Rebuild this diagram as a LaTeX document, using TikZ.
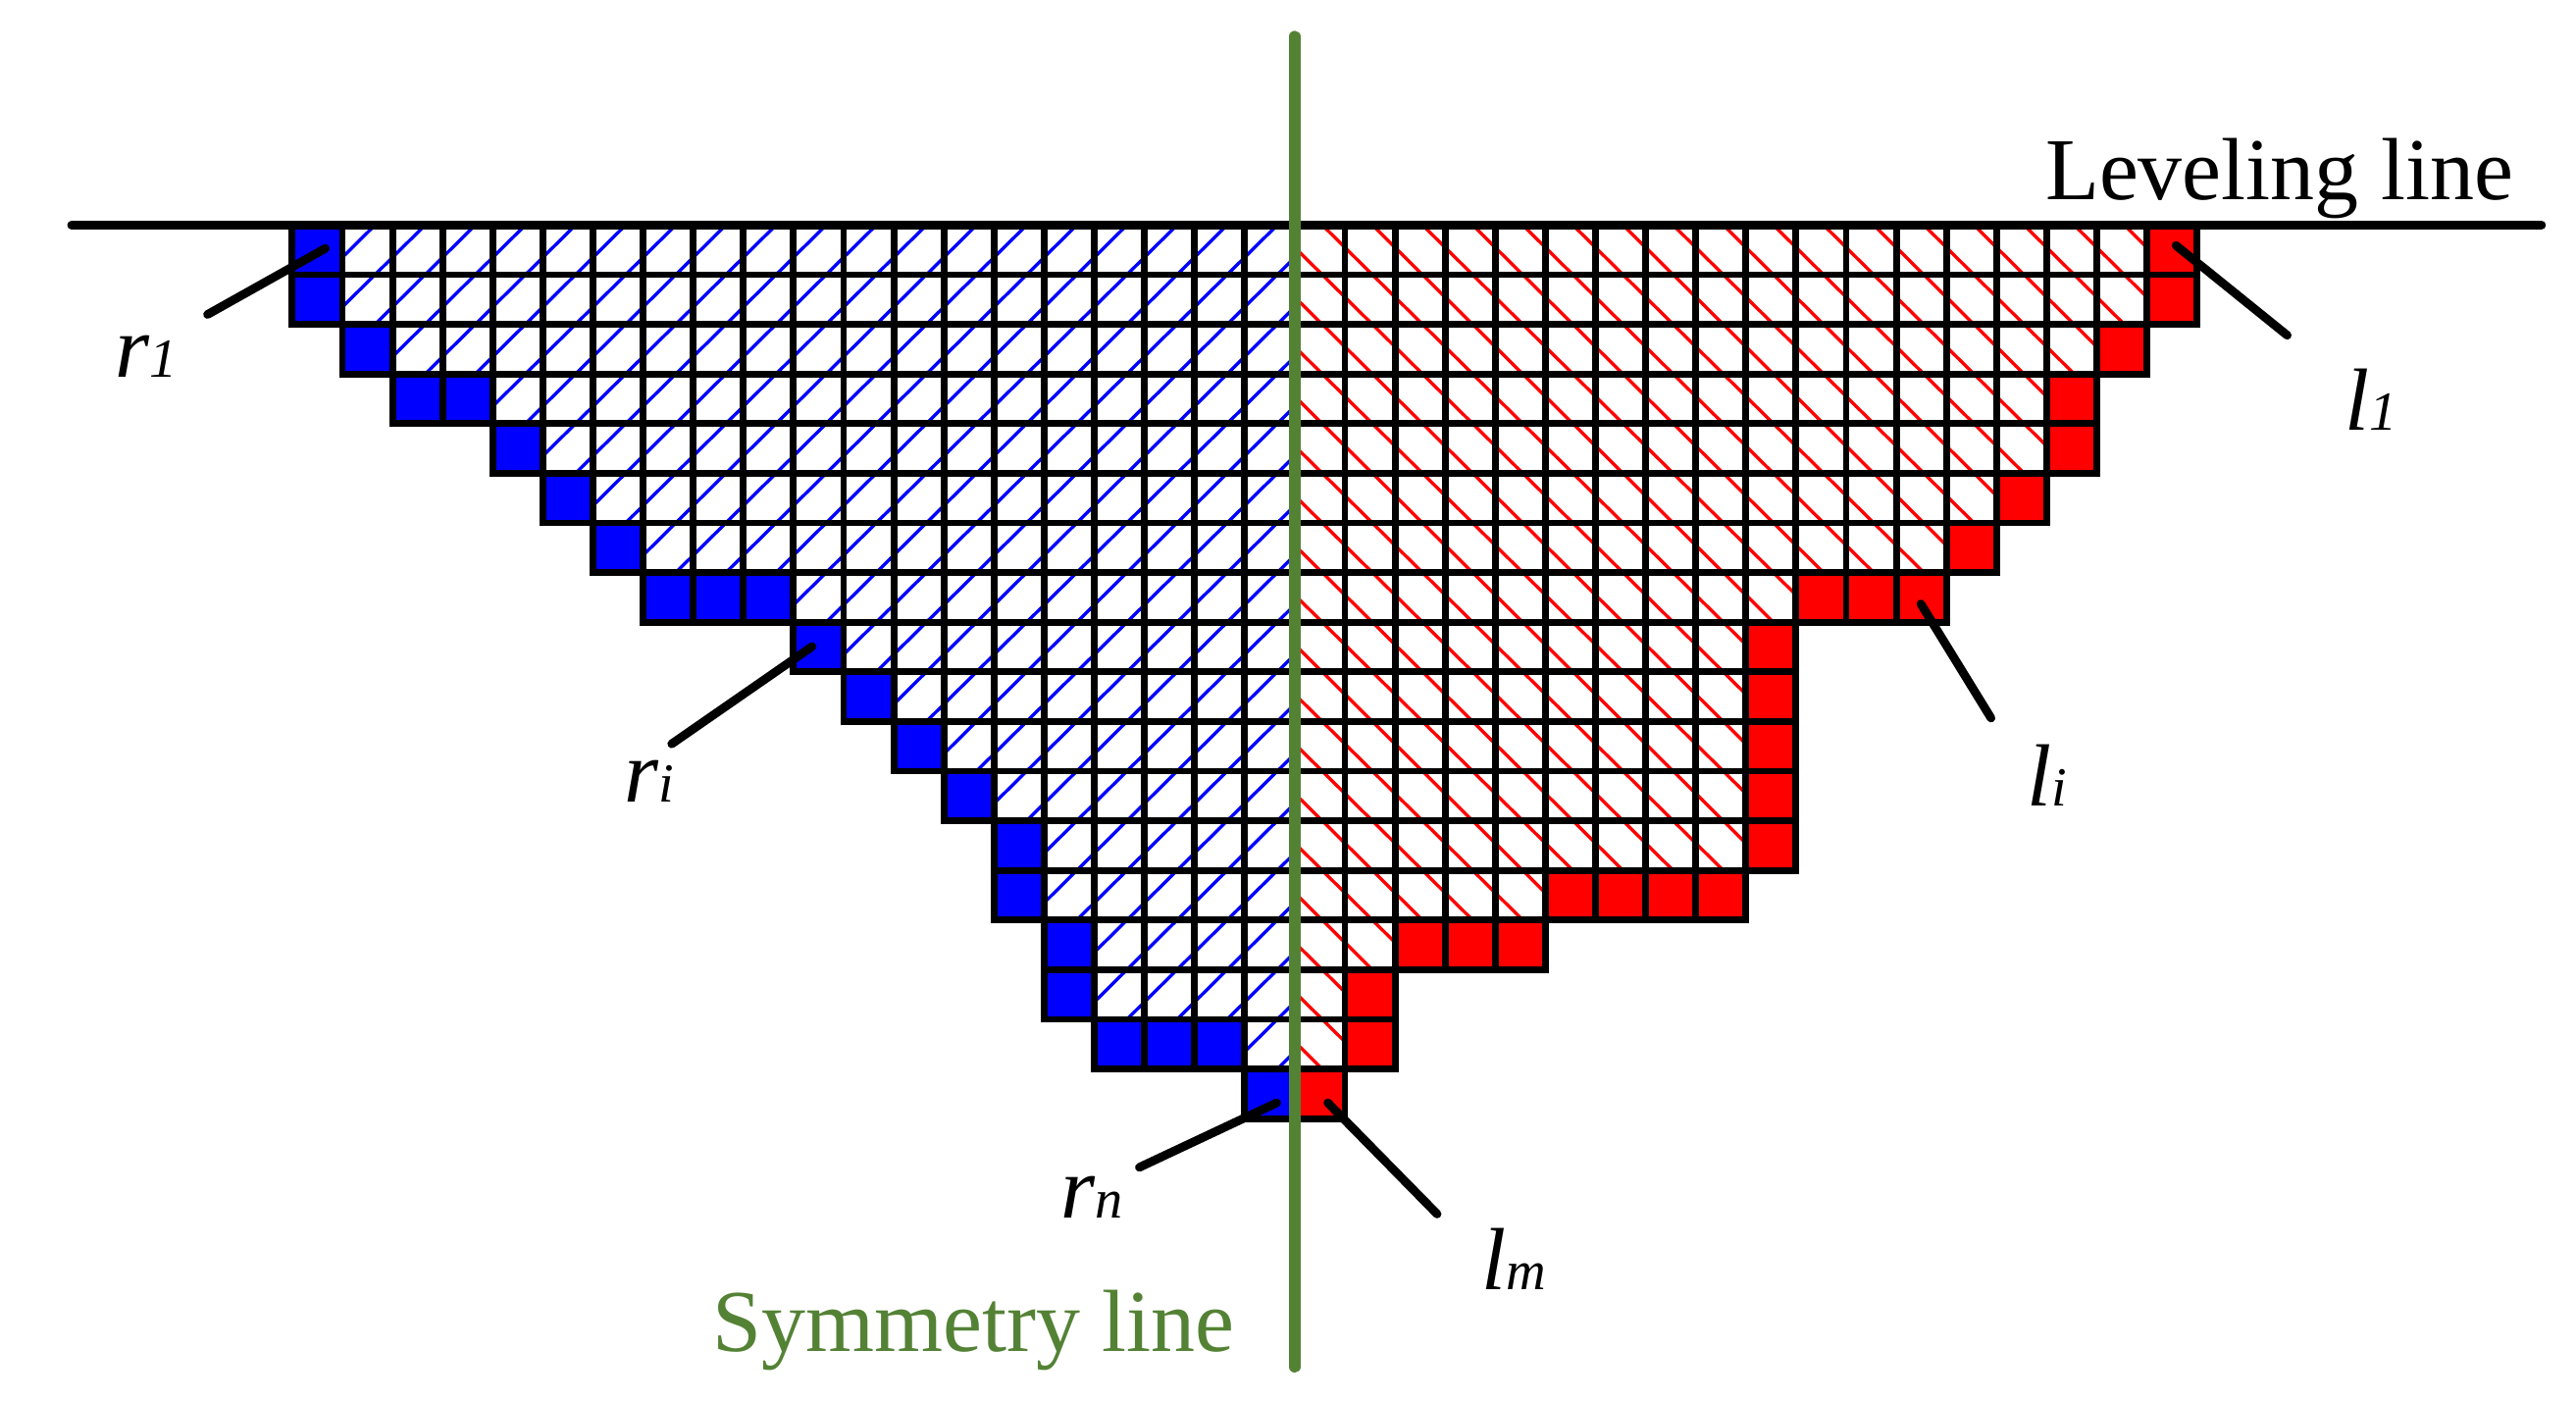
\documentclass[tikz,border=0pt]{standalone}
\usepackage{fontspec}
\setmainfont{Liberation Serif}
\definecolor{symgreen}{RGB}{84,130,53}
\newcommand\lsub[1]{{\fontsize{16}{19}\selectfont\textit{#1}}}
\tikzset{
  cellborder/.style={draw=black,line width=1.95pt},
  hatchline/.style={line width=0.95pt,line cap=butt},
  leader/.style={draw=black,line width=2.5pt,line cap=round},
  levline/.style={draw=black,line width=2.6pt,line cap=round},
  symline/.style={draw=symgreen,line width=3.3pt,line cap=round},
  lab/.style={anchor=base west,inner sep=0pt,font=\fontsize{25.6}{30}\selectfont},
}
\begin{document}
\begin{tikzpicture}[x=0.511cm,y=-0.506cm]
\useasboundingbox (-5.83,-4.535) rectangle (45.56,23.67);
% ---------- left (blue) cells: row / extent / extent of next row
\foreach \r/\L/\N in {1/20/20,2/20/19,3/19/18,4/18/16,5/16/15,6/15/14,7/14/13,8/13/10,9/10/9,10/9/8,11/8/7,12/7/6,13/6/6,14/6/5,15/5/5,16/5/4,17/4/1,18/1/0}{
  \foreach \k in {1,...,\L}{
    \pgfmathsetmacro\xo{20-\k}
    \pgfmathtruncatemacro\solid{or(\k>\N,\k==\L)}
    \ifnum\solid=1
      \fill[blue] (\xo,\r-1) rectangle (\xo+1,\r);
    \else
      \draw[hatchline,blue] (\xo+0.65,\r-1) -- (\xo,\r-0.35);
      \draw[hatchline,blue] (\xo+1,\r-0.35) -- (\xo+0.65,\r);
    \fi
  }
}
% ---------- right (red) cells
\foreach \r/\L/\N in {1/18/18,2/18/17,3/17/16,4/16/16,5/16/15,6/15/14,7/14/13,8/13/10,9/10/10,10/10/10,11/10/10,12/10/10,13/10/9,14/9/5,15/5/2,16/2/2,17/2/1,18/1/0}{
  \foreach \k in {1,...,\L}{
    \pgfmathsetmacro\xo{19+\k}
    \pgfmathtruncatemacro\solid{or(\k>\N,\k==\L)}
    \ifnum\solid=1
      \fill[red] (\xo,\r-1) rectangle (\xo+1,\r);
    \else
      \draw[hatchline,red] (\xo,\r-0.55) -- (\xo+0.55,\r);
      \draw[hatchline,red] (\xo+0.55,\r-1) -- (\xo+1,\r-0.55);
    \fi
  }
}
% ---------- borders
\foreach \r/\L in {1/20,2/20,3/19,4/18,5/16,6/15,7/14,8/13,9/10,10/9,11/8,12/7,13/6,14/6,15/5,16/5,17/4,18/1}{
  \foreach \k in {1,...,\L}{
    \pgfmathsetmacro\xo{20-\k}
    \draw[cellborder] (\xo,\r-1) rectangle (\xo+1,\r);
  }
}
\foreach \r/\L in {1/18,2/18,3/17,4/16,5/16,6/15,7/14,8/13,9/10,10/10,11/10,12/10,13/10,14/9,15/5,16/2,17/2,18/1}{
  \foreach \k in {1,...,\L}{
    \pgfmathsetmacro\xo{19+\k}
    \draw[cellborder] (\xo,\r-1) rectangle (\xo+1,\r);
  }
}
% ---------- leveling line
\coordinate (levL) at (-4.4,0);
\coordinate (levR) at (44.87,0);
\draw[levline] (levL) -- (levR);
\node[lab] (levtext) at (34.96,-0.52) {Leveling line};
% ---------- symmetry line
\coordinate (symT) at (20,-3.8);
\coordinate (symB) at (20,23.0);
\draw[symline] (symT) -- (symB);
\node[lab,text=symgreen] (symtext) at (8.37,22.68) {Symmetry line};
% ---------- leaders and labels
\coordinate (r1a) at (0.66,0.47);   \coordinate (r1b) at (-1.69,1.80);
\coordinate (l1a) at (37.58,0.41);  \coordinate (l1b) at (39.8,2.22);
\coordinate (ria) at (10.37,8.49);  \coordinate (rib) at (7.57,10.45);
\coordinate (lia) at (32.49,7.63);  \coordinate (lib) at (33.89,9.93);
\coordinate (rna) at (19.64,17.68); \coordinate (rnb) at (16.9,18.98);
\coordinate (lma) at (20.66,17.68); \coordinate (lmb) at (22.84,19.92);
\draw[leader] (r1a) -- (r1b);
\draw[leader] (l1a) -- (l1b);
\draw[leader] (ria) -- (rib);
\draw[leader] (lia) -- (lib);
\draw[leader] (rna) -- (rnb);
\draw[leader] (lma) -- (lmb);
\node[lab] (r1) at (-3.55,3.07) {\textit{r}\lsub{1}};
\node[lab] (l1) at (40.94,4.13) {\textit{l}\lsub{1}};
\node[lab] (ri) at (6.61,11.62) {\textit{r}\lsub{i}};
\node[lab] (li) at (34.59,11.7) {\textit{l}\lsub{i}};
\node[lab] (rn) at (15.32,20.0) {\textit{r}\lsub{n}};
\node[lab] (lm) at (23.72,21.45) {\textit{l}\lsub{m}};
\end{tikzpicture}
\end{document}
